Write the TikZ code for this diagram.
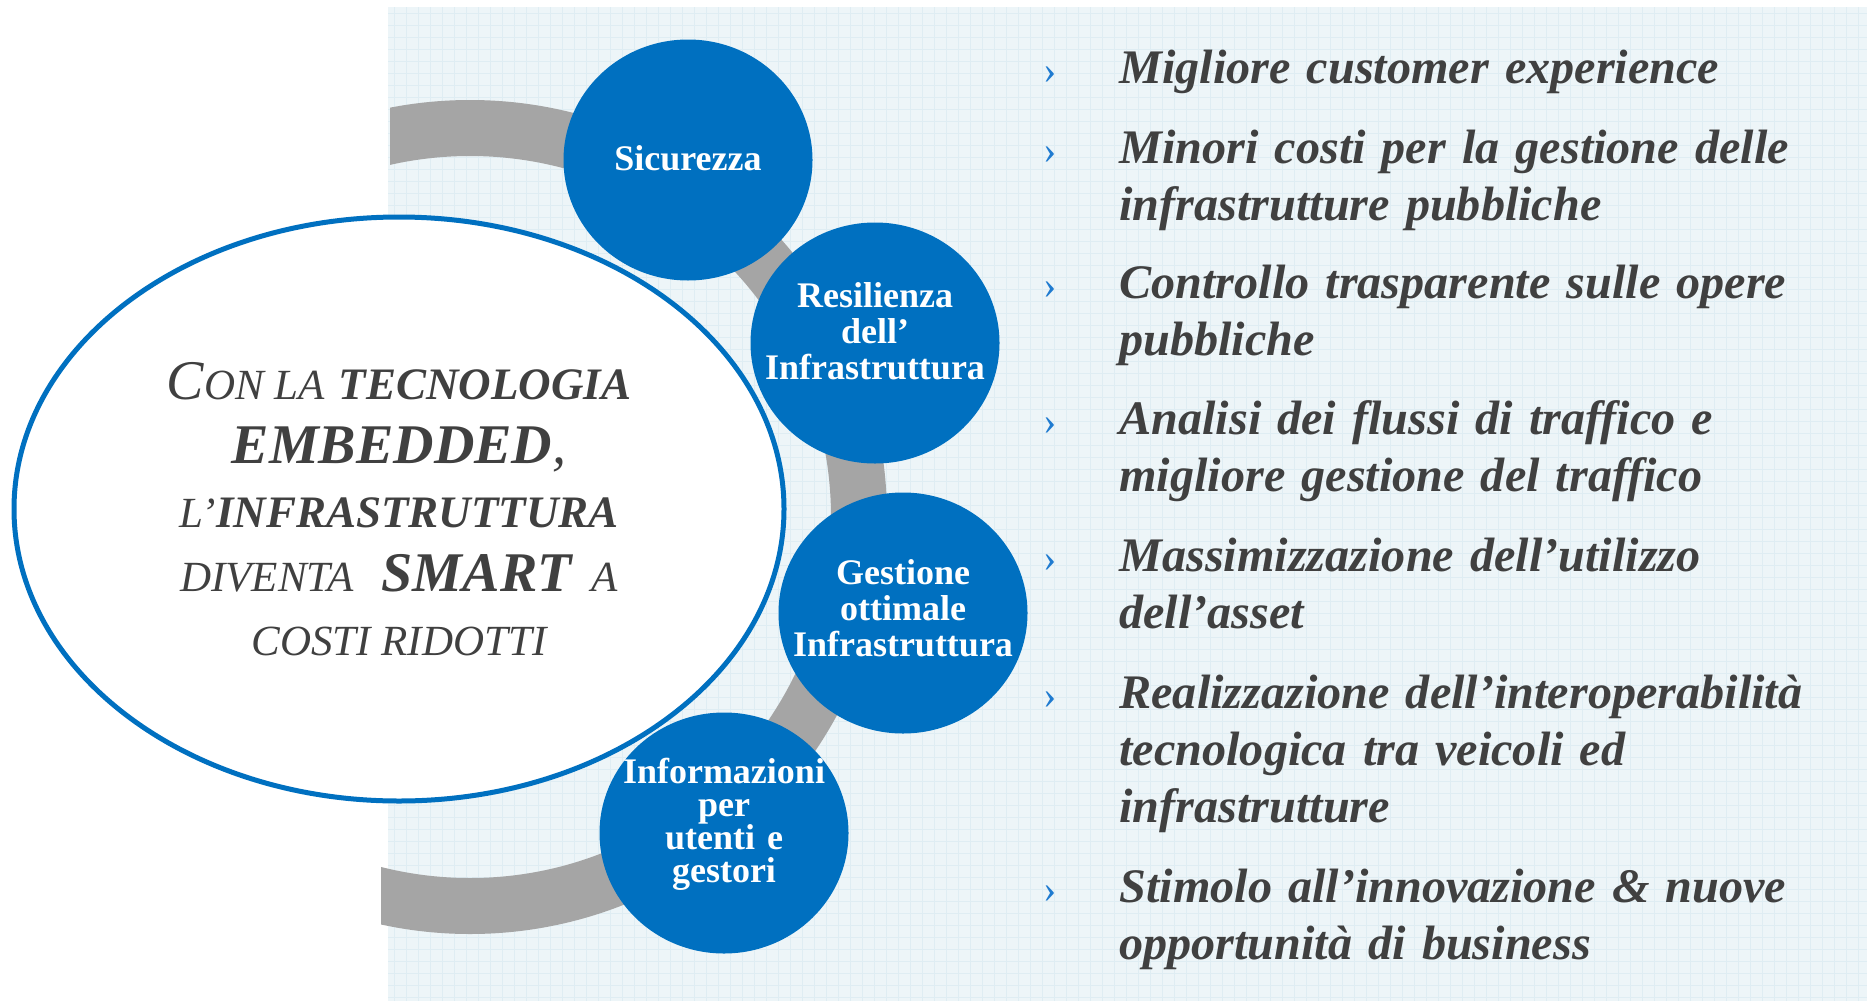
\documentclass[tikz,border=0pt]{standalone}
\usepackage{fontspec}
\setmainfont{Liberation Serif}
\usetikzlibrary{shapes.geometric}
\definecolor{cblue}{HTML}{0070C0}
\definecolor{bandgray}{HTML}{A5A5A5}
\definecolor{txtgray}{HTML}{404040}
\definecolor{panelbg}{HTML}{EDF5F8}
\definecolor{panelgrid}{HTML}{DFEDF3}
\definecolor{bulletblue}{HTML}{1F7BD0}
\newcommand\myScR[1]{{\fontsize{21.5}{32}\selectfont\itshape\MakeUppercase{#1}}}
\newcommand\myScB[1]{{\fontsize{22.5}{32}\selectfont\bfseries\itshape\MakeUppercase{#1}}}
\newcommand\myBigI[1]{{\fontsize{28}{32}\selectfont\itshape #1}}
\newcommand\myBigB[1]{{\fontsize{28}{32}\selectfont\bfseries\itshape #1}}
\begin{document}
\begin{tikzpicture}[x=0.5pt,y=-0.5pt,
  gridln/.style={draw=panelgrid,line width=0.4pt},
  band/.style={draw=bandgray,line width=28pt},
  core/.style={ellipse,draw=cblue,line width=2.5pt,fill=white,minimum width=385pt,minimum height=292pt,inner sep=0pt,text=txtgray,align=center,font=\fontsize{28}{32}\selectfont},
  bubble/.style={ellipse,fill=cblue,minimum width=124.5pt,minimum height=120.5pt,inner sep=0pt},
  bubtxt/.style={text=white,font=\fontsize{18}{18}\selectfont\bfseries,align=center,text width=122pt,inner sep=0pt,anchor=base},
  item/.style={text=txtgray,font=\fontsize{24.1}{28.5}\selectfont\bfseries\itshape,text width=400pt,align=left,inner sep=0pt,anchor=base west},
  bul/.style={text=bulletblue,font=\fontsize{20}{20}\selectfont,inner sep=0pt,anchor=base west}]
\useasboundingbox (0,0) rectangle (1867,1001);
% background panel
\fill[panelbg] (388,7) rectangle (1867,1001);
\foreach \gx in {394,406,...,1864} \draw[gridln] (\gx,7) -- (\gx,1001);
\foreach \gy in {13,25,...,1000} \draw[gridln] (388,\gy) -- (1867,\gy);
% grey arc
\begin{scope}
\clip (390,0) rectangle (1867,515) (381,515) rectangle (1867,1001);
\draw[band] (470,517) circle [radius=389];
\end{scope}
% central ellipse
\node[core] (core) at (399,509) {%
\myBigI{C}\myScR{on la} \myScB{tecnologia}\\
\myBigB{EMBEDDED}\myBigI{,}\\
\myScR{l’}\myScB{infrastruttura}\\
\myScR{diventa}\hspace{7pt} \myBigB{SMART}\hspace{3pt} \myScR{a}\\
\myScR{costi ridotti}};
% blue circles
\node[bubble] (s1) at (688,160) {};
\node[bubble] (s2) at (875,343) {};
\node[bubble] (s3) at (903,613) {};
\node[bubble] (s4) at (724,833) {};
\node[bubtxt] (s1t) at (688,170) {Sicurezza};
\node[bubtxt] (s2t) at (875,307) {Resilienza\\ dell’\\ Infrastruttura};
\node[bubtxt] (s3t) at (903,584) {Gestione\\ ottimale\\ Infrastruttura};
\node[bubtxt,font=\fontsize{18}{16.5}\selectfont\bfseries] (s4t) at (724,783) {Informazioni\\ per\\ utenti e\\ gestori};
% bullets and items
\node[bul] (b1) at (1043,83) {›};
\node[bul] (b2) at (1043,163) {›};
\node[bul] (b3) at (1043,298) {›};
\node[bul] (b4) at (1043,434) {›};
\node[bul] (b5) at (1043,571) {›};
\node[bul] (b6) at (1043,708) {›};
\node[bul] (b7) at (1043,902) {›};
\node[item] (i1) at (1119,83) {Migliore customer experience};
\node[item] (i2) at (1119,163) {Minori costi per la gestione delle\\ infrastrutture pubbliche};
\node[item] (i3) at (1119,298) {Controllo trasparente sulle opere\\ pubbliche};
\node[item] (i4) at (1119,434) {Analisi dei flussi di traffico e\\ migliore gestione del traffico};
\node[item] (i5) at (1119,571) {Massimizzazione dell’utilizzo\\ dell’asset};
\node[item] (i6) at (1119,708) {Realizzazione dell’interoperabilità\\ tecnologica tra veicoli ed\\ infrastrutture};
\node[item] (i7) at (1119,902) {Stimolo all’innovazione \& nuove\\ opportunità di business};
\end{tikzpicture}
\end{document}
